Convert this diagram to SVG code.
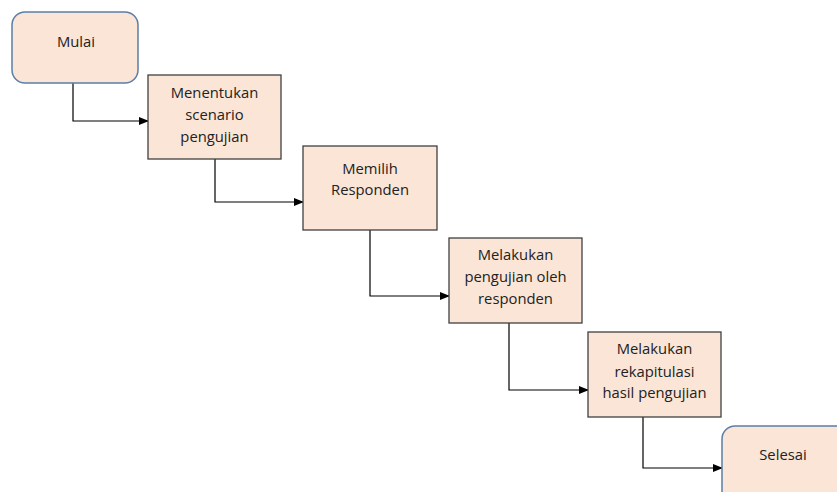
<svg xmlns="http://www.w3.org/2000/svg" width="837" height="492" viewBox="0 0 837 492">
<style>
.box{fill:#fbe5d6;stroke:#404040;stroke-width:1.3}
.term{fill:#fbe5d6;stroke:#5b7fa6;stroke-width:1.5}
.t{font-family:"Open Sans","Noto Sans",sans-serif;font-size:14.8px;fill:#222;text-anchor:middle}
.c{fill:none;stroke:#000;stroke-width:1.2;marker-end:url(#ah)}
</style>
<defs>
<marker id="ah" markerWidth="10" markerHeight="8" refX="9" refY="4" orient="auto" markerUnits="userSpaceOnUse">
<path d="M0,0 L10,4 L0,8 Z" fill="#000"/>
</marker>
</defs>
<rect width="837" height="492" fill="#fff"/>
<g id="connectors">
<path class="c" d="M73,83 V121 H148"/>
<path class="c" d="M215,159 V202 H303"/>
<path class="c" d="M370,230 V296 H449"/>
<path class="c" d="M509,323 V390 H588"/>
<path class="c" d="M643,417 V468 H722"/>
</g>
<g id="mulai">
<rect class="term" x="12" y="12" width="126" height="71" rx="13"/>
<text class="t" x="76" y="47">Mulai</text>
</g>
<g id="menentukan">
<rect class="box" x="148" y="75" width="133" height="84"/>
<text class="t" x="214.5" y="98">Menentukan</text>
<text class="t" x="214.5" y="120">scenario</text>
<text class="t" x="214.5" y="142">pengujian</text>
</g>
<g id="memilih">
<rect class="box" x="303" y="146" width="134" height="84"/>
<text class="t" x="370" y="174">Memilih</text>
<text class="t" x="370" y="195">Responden</text>
</g>
<g id="melakukan-pengujian">
<rect class="box" x="449" y="238" width="133" height="85"/>
<text class="t" x="515.5" y="260">Melakukan</text>
<text class="t" x="515.5" y="282">pengujian oleh</text>
<text class="t" x="515.5" y="304">responden</text>
</g>
<g id="melakukan-rekapitulasi">
<rect class="box" x="588" y="332" width="133" height="85"/>
<text class="t" x="654.5" y="354">Melakukan</text>
<text class="t" x="654.5" y="377">rekapitulasi</text>
<text class="t" x="654.5" y="398">hasil pengujian</text>
</g>
<g id="selesai">
<rect class="term" x="722" y="426" width="140" height="90" rx="13"/>
<text class="t" x="783" y="460">Selesai</text>
</g>
</svg>
